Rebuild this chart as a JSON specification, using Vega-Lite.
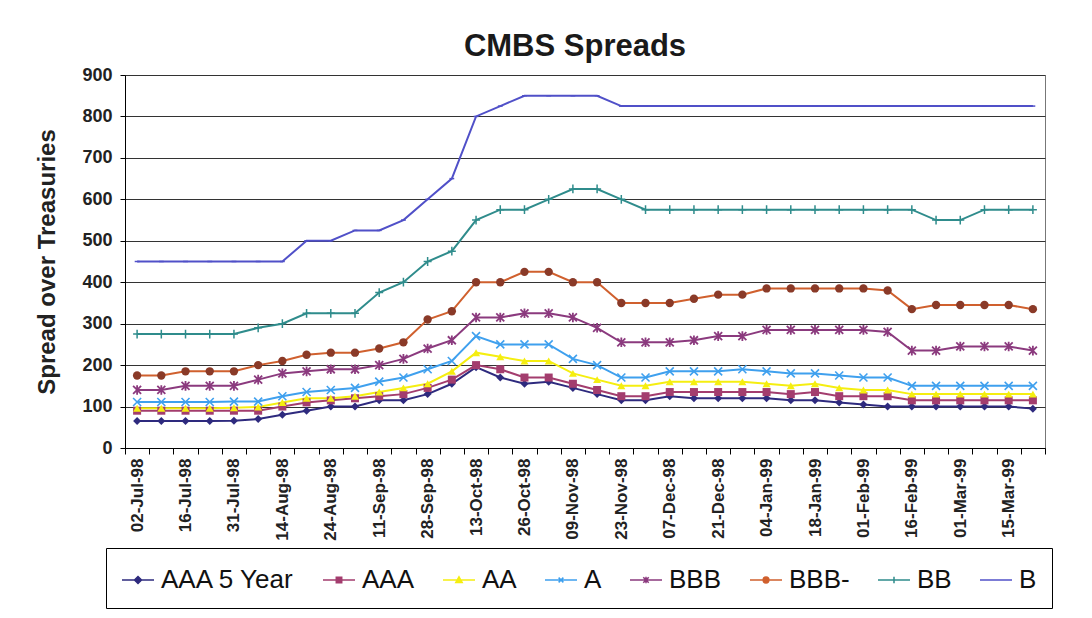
{
  "$schema": "https://vega.github.io/schema/vega-lite/v6.json",
  "width": 920,
  "height": 373,
  "autosize": {"type": "none"},
  "padding": {"left": 125, "top": 75, "right": 47, "bottom": 170},
  "background": "white",
  "config": {"view": {"stroke": "#777", "strokeWidth": 1}},
  "title": {"text": "CMBS Spreads", "font": "Liberation Sans", "fontSize": 31, "fontWeight": "bold", "color": "#1a1a1a", "offset": 3, "dx": -10},
  "data": {"values": [
    {"date": "02-Jul-98", "AAA 5 Year": 65, "AAA": 90, "AA": 96, "A": 111, "BBB": 140, "BBB-": 175, "BB": 275, "B": 450},
    {"date": "09-Jul-98", "AAA 5 Year": 65, "AAA": 90, "AA": 96, "A": 111, "BBB": 140, "BBB-": 175, "BB": 275, "B": 450},
    {"date": "16-Jul-98", "AAA 5 Year": 65, "AAA": 90, "AA": 96, "A": 111, "BBB": 150, "BBB-": 185, "BB": 275, "B": 450},
    {"date": "23-Jul-98", "AAA 5 Year": 65, "AAA": 90, "AA": 96, "A": 111, "BBB": 150, "BBB-": 185, "BB": 275, "B": 450},
    {"date": "31-Jul-98", "AAA 5 Year": 66, "AAA": 90, "AA": 97, "A": 112, "BBB": 150, "BBB-": 185, "BB": 275, "B": 450},
    {"date": "07-Aug-98", "AAA 5 Year": 70, "AAA": 90, "AA": 99, "A": 112, "BBB": 165, "BBB-": 200, "BB": 290, "B": 450},
    {"date": "14-Aug-98", "AAA 5 Year": 80, "AAA": 100, "AA": 110, "A": 125, "BBB": 180, "BBB-": 210, "BB": 300, "B": 450},
    {"date": "19-Aug-98", "AAA 5 Year": 90, "AAA": 110, "AA": 120, "A": 135, "BBB": 185, "BBB-": 225, "BB": 325, "B": 500},
    {"date": "24-Aug-98", "AAA 5 Year": 100, "AAA": 115, "AA": 120, "A": 140, "BBB": 190, "BBB-": 230, "BB": 325, "B": 500},
    {"date": "03-Sep-98", "AAA 5 Year": 100, "AAA": 120, "AA": 125, "A": 145, "BBB": 190, "BBB-": 230, "BB": 325, "B": 525},
    {"date": "11-Sep-98", "AAA 5 Year": 115, "AAA": 125, "AA": 135, "A": 160, "BBB": 200, "BBB-": 240, "BB": 375, "B": 525},
    {"date": "18-Sep-98", "AAA 5 Year": 115, "AAA": 130, "AA": 145, "A": 170, "BBB": 215, "BBB-": 255, "BB": 400, "B": 550},
    {"date": "28-Sep-98", "AAA 5 Year": 130, "AAA": 145, "AA": 155, "A": 190, "BBB": 240, "BBB-": 310, "BB": 450, "B": 600},
    {"date": "05-Oct-98", "AAA 5 Year": 155, "AAA": 165, "AA": 185, "A": 210, "BBB": 260, "BBB-": 330, "BB": 475, "B": 650},
    {"date": "13-Oct-98", "AAA 5 Year": 195, "AAA": 200, "AA": 230, "A": 270, "BBB": 315, "BBB-": 400, "BB": 550, "B": 800},
    {"date": "19-Oct-98", "AAA 5 Year": 170, "AAA": 190, "AA": 220, "A": 250, "BBB": 315, "BBB-": 400, "BB": 575, "B": 825},
    {"date": "26-Oct-98", "AAA 5 Year": 155, "AAA": 170, "AA": 210, "A": 250, "BBB": 325, "BBB-": 425, "BB": 575, "B": 850},
    {"date": "02-Nov-98", "AAA 5 Year": 160, "AAA": 170, "AA": 210, "A": 250, "BBB": 325, "BBB-": 425, "BB": 600, "B": 850},
    {"date": "09-Nov-98", "AAA 5 Year": 145, "AAA": 155, "AA": 180, "A": 215, "BBB": 315, "BBB-": 400, "BB": 625, "B": 850},
    {"date": "16-Nov-98", "AAA 5 Year": 130, "AAA": 140, "AA": 165, "A": 200, "BBB": 290, "BBB-": 400, "BB": 625, "B": 850},
    {"date": "23-Nov-98", "AAA 5 Year": 115, "AAA": 125, "AA": 150, "A": 170, "BBB": 255, "BBB-": 350, "BB": 600, "B": 825},
    {"date": "30-Nov-98", "AAA 5 Year": 115, "AAA": 125, "AA": 150, "A": 170, "BBB": 255, "BBB-": 350, "BB": 575, "B": 825},
    {"date": "07-Dec-98", "AAA 5 Year": 125, "AAA": 135, "AA": 160, "A": 185, "BBB": 255, "BBB-": 350, "BB": 575, "B": 825},
    {"date": "14-Dec-98", "AAA 5 Year": 120, "AAA": 135, "AA": 160, "A": 185, "BBB": 260, "BBB-": 360, "BB": 575, "B": 825},
    {"date": "21-Dec-98", "AAA 5 Year": 120, "AAA": 135, "AA": 160, "A": 185, "BBB": 270, "BBB-": 370, "BB": 575, "B": 825},
    {"date": "28-Dec-98", "AAA 5 Year": 120, "AAA": 135, "AA": 160, "A": 190, "BBB": 270, "BBB-": 370, "BB": 575, "B": 825},
    {"date": "04-Jan-99", "AAA 5 Year": 120, "AAA": 135, "AA": 155, "A": 185, "BBB": 285, "BBB-": 385, "BB": 575, "B": 825},
    {"date": "11-Jan-99", "AAA 5 Year": 115, "AAA": 130, "AA": 150, "A": 180, "BBB": 285, "BBB-": 385, "BB": 575, "B": 825},
    {"date": "18-Jan-99", "AAA 5 Year": 115, "AAA": 135, "AA": 155, "A": 180, "BBB": 285, "BBB-": 385, "BB": 575, "B": 825},
    {"date": "25-Jan-99", "AAA 5 Year": 110, "AAA": 125, "AA": 145, "A": 175, "BBB": 285, "BBB-": 385, "BB": 575, "B": 825},
    {"date": "01-Feb-99", "AAA 5 Year": 105, "AAA": 125, "AA": 140, "A": 170, "BBB": 285, "BBB-": 385, "BB": 575, "B": 825},
    {"date": "08-Feb-99", "AAA 5 Year": 100, "AAA": 125, "AA": 140, "A": 170, "BBB": 280, "BBB-": 380, "BB": 575, "B": 825},
    {"date": "16-Feb-99", "AAA 5 Year": 100, "AAA": 115, "AA": 130, "A": 150, "BBB": 235, "BBB-": 335, "BB": 575, "B": 825},
    {"date": "22-Feb-99", "AAA 5 Year": 100, "AAA": 115, "AA": 130, "A": 150, "BBB": 235, "BBB-": 345, "BB": 550, "B": 825},
    {"date": "01-Mar-99", "AAA 5 Year": 100, "AAA": 115, "AA": 130, "A": 150, "BBB": 245, "BBB-": 345, "BB": 550, "B": 825},
    {"date": "08-Mar-99", "AAA 5 Year": 100, "AAA": 115, "AA": 130, "A": 150, "BBB": 245, "BBB-": 345, "BB": 575, "B": 825},
    {"date": "15-Mar-99", "AAA 5 Year": 100, "AAA": 115, "AA": 130, "A": 150, "BBB": 245, "BBB-": 345, "BB": 575, "B": 825},
    {"date": "22-Mar-99", "AAA 5 Year": 95, "AAA": 115, "AA": 130, "A": 150, "BBB": 235, "BBB-": 335, "BB": 575, "B": 825}
  ]},
  "transform": [{"fold": ["AAA 5 Year", "AAA", "AA", "A", "BBB", "BBB-", "BB", "B"], "as": ["series", "value"]}],
  "encoding": {
    "x": {
      "field": "date", "type": "ordinal", "sort": null, "bandPosition": 0.5,
      "scale": {"type": "band", "paddingInner": 0, "paddingOuter": 0},
      "axis": {
        "title": null, "labelAngle": 270, "labelFont": "Liberation Sans", "labelFontSize": 17, "labelFontWeight": "bold", "labelColor": "#222",
        "labelOverlap": false, "tickBand": "extent", "tickSize": 6, "tickColor": "#000", "domainColor": "#000", "labelPadding": 4, "grid": false,
        "labelExpr": "indexof(['02-Jul-98','16-Jul-98','31-Jul-98','14-Aug-98','24-Aug-98','11-Sep-98','28-Sep-98','13-Oct-98','26-Oct-98','09-Nov-98','23-Nov-98','07-Dec-98','21-Dec-98','04-Jan-99','18-Jan-99','01-Feb-99','16-Feb-99','01-Mar-99','15-Mar-99'], datum.value) >= 0 ? datum.value : ''"
      }
    },
    "y": {
      "field": "value", "type": "quantitative",
      "scale": {"domain": [0, 900], "nice": false},
      "axis": {
        "title": "Spread over Treasuries", "titleFont": "Liberation Sans", "titleFontSize": 24, "titleFontWeight": "bold", "titleColor": "#222", "titlePadding": 22,
        "labelFont": "Liberation Sans", "labelFontSize": 18, "labelFontWeight": "bold", "labelColor": "#222", "labelPadding": 8,
        "values": [0, 100, 200, 300, 400, 500, 600, 700, 800, 900],
        "tickSize": 5, "tickColor": "#000", "domainColor": "#000", "grid": true, "gridColor": "#333", "gridWidth": 1
      }
    },
    "color": {
      "field": "series", "type": "nominal",
      "scale": {
        "domain": ["AAA 5 Year", "AAA", "AA", "A", "BBB", "BBB-", "BB", "B"],
        "range": ["#2e2a7e", "#a33d6e", "#f5ee10", "#3fa0ee", "#8b3a7e", "#d0602e", "#2f8c8c", "#5050c8"]
      },
      "legend": {
        "orient": "none", "legendX": -19, "legendY": 473, "direction": "horizontal", "columns": 8, "title": null,
        "labelFont": "Liberation Sans", "labelFontSize": 26, "labelColor": "#111", "labelOffset": 6,
        "symbolSize": 1024, "symbolStrokeWidth": 1.5, "columnPadding": 25, "padding": 15,
        "strokeColor": "#000", "fillColor": "white",
        "encode": {
          "symbols": {
            "update": {
              "shape": {"signal": "datum.value === 'AAA 5 Year' ? 'M-1,0L1,0M0,-0.22L0.22,0L0,0.22L-0.22,0Z' : datum.value === 'AAA' ? 'M-1,0L1,0M-0.17,-0.17L0.17,-0.17L0.17,0.17L-0.17,0.17Z' : datum.value === 'AA' ? 'M-1,0L1,0M0,-0.2L0.2,0.16L-0.2,0.16Z' : datum.value === 'A' ? 'M-1,0L1,0M-0.15,-0.15L0.15,0.15M-0.15,0.15L0.15,-0.15' : datum.value === 'BBB' ? 'M-1,0L1,0M-0.17,-0.17L0.17,0.17M-0.17,0.17L0.17,-0.17M0,-0.2L0,0.2' : datum.value === 'BBB-' ? 'M-1,0L1,0M0.18,0A0.18,0.18,0,1,1,-0.18,0A0.18,0.18,0,1,1,0.18,0Z' : datum.value === 'BB' ? 'M-1,0L1,0M0,-0.2L0,0.2' : 'M-1,0L1,0'"},
              "fill": {"signal": "datum.value === 'BBB-' ? '#8a3a28' : indexof(['AAA 5 Year','AAA','AA'], datum.value) >= 0 ? scale('color', datum.value) : 'transparent'"},
              "strokeWidth": {"value": 1.5},
              "opacity": {"value": 1}
            }
          }
        }
      }
    }
  },
  "layer": [
    {"mark": {"type": "line", "strokeWidth": 2}},
    {"transform": [{"filter": "datum.series === 'AAA 5 Year'"}], "mark": {"type": "point", "shape": "diamond", "filled": true, "size": 64, "opacity": 1}},
    {"transform": [{"filter": "datum.series === 'AAA'"}], "mark": {"type": "point", "shape": "square", "filled": true, "size": 64, "opacity": 1}},
    {"transform": [{"filter": "datum.series === 'AA'"}], "mark": {"type": "point", "shape": "triangle-up", "filled": true, "size": 64, "opacity": 1}},
    {"transform": [{"filter": "datum.series === 'A'"}], "mark": {"type": "point", "shape": "M-1,-1L1,1M-1,1L1,-1", "filled": false, "size": 64, "strokeWidth": 1.6, "opacity": 1}},
    {"transform": [{"filter": "datum.series === 'BBB'"}], "mark": {"type": "point", "shape": "M-1,-1L1,1M-1,1L1,-1M0,-1.2L0,1.2", "filled": false, "size": 64, "strokeWidth": 1.8, "opacity": 1}},
    {"transform": [{"filter": "datum.series === 'BBB-'"}], "mark": {"type": "point", "shape": "circle", "filled": true, "size": 70, "opacity": 1}, "encoding": {"fill": {"value": "#8a3a28"}}},
    {"transform": [{"filter": "datum.series === 'BB'"}], "mark": {"type": "point", "shape": "M-1,0L1,0M0,-1.1L0,1.1", "filled": false, "size": 64, "strokeWidth": 1.5, "opacity": 1}},
    {"transform": [{"filter": "datum.series === 'B'"}], "mark": {"type": "point", "shape": "M-0.6,0L0.6,0", "filled": false, "size": 64, "strokeWidth": 1.5, "opacity": 1}}
  ]
}
